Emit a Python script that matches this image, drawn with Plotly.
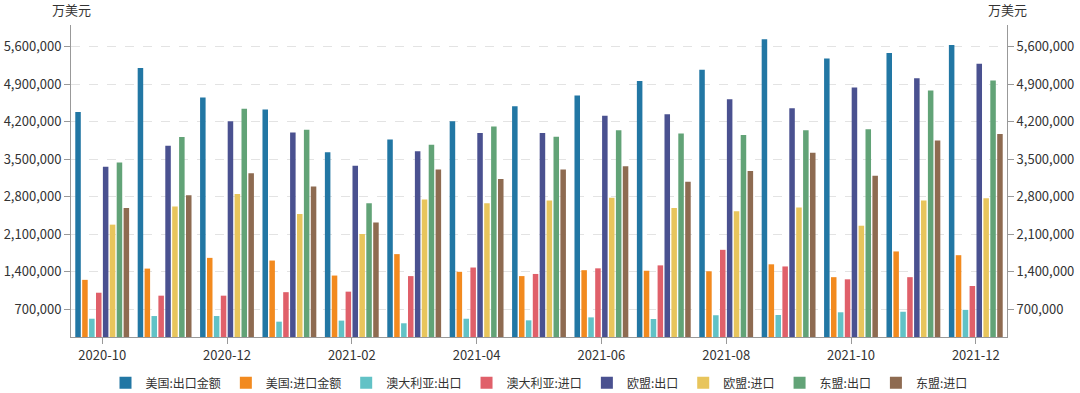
import plotly.graph_objects as go

months = ["2020-10", "2020-11", "2020-12", "2021-01", "2021-02", "2021-03", "2021-04",
          "2021-05", "2021-06", "2021-07", "2021-08", "2021-09", "2021-10", "2021-11", "2021-12"]

us_export = [4380000, 5200000, 4650000, 4430000, 3630000, 3870000, 4210000, 4490000,
             4690000, 4960000, 5170000, 5740000, 5380000, 5480000, 5630000]
us_import = [1250000, 1460000, 1660000, 1610000, 1330000, 1730000, 1400000, 1320000,
             1430000, 1420000, 1410000, 1540000, 1300000, 1780000, 1710000]
au_export = [525000, 575000, 575000, 470000, 490000, 440000, 525000, 495000,
             550000, 520000, 590000, 595000, 645000, 655000, 690000]
au_import = [1010000, 955000, 955000, 1020000, 1030000, 1320000, 1480000, 1360000,
             1465000, 1520000, 1810000, 1500000, 1260000, 1300000, 1135000]
eu_export = [3360000, 3750000, 4210000, 4000000, 3380000, 3650000, 3990000, 3990000,
             4310000, 4340000, 4620000, 4450000, 4840000, 5010000, 5280000]
eu_import = [2280000, 2620000, 2850000, 2480000, 2105000, 2750000, 2680000, 2730000,
             2780000, 2590000, 2530000, 2600000, 2260000, 2730000, 2770000]
asean_export = [3440000, 3915000, 4440000, 4050000, 2680000, 3770000, 4110000, 3920000,
                4040000, 3980000, 3950000, 4040000, 4060000, 4780000, 4970000]
asean_import = [2590000, 2830000, 3240000, 2990000, 2320000, 3310000, 3130000, 3310000,
                3370000, 3080000, 3280000, 3620000, 3190000, 3850000, 3970000]

series_names = ["美国:出口金额", "美国:进口金额", "澳大利亚:出口", "澳大利亚:进口",
                "欧盟:出口", "欧盟:进口", "东盟:出口", "东盟:进口"]
series_values = [us_export, us_import, au_export, au_import,
                 eu_export, eu_import, asean_export, asean_import]
colors = ["#2277A4", "#F28A1F", "#62C2C6", "#E0606A",
          "#4A5190", "#E8C55C", "#62A377", "#8E6B51"]

tick_vals = [700000, 1400000, 2100000, 2800000, 3500000, 4200000, 4900000, 5600000]
y_range = [184000, 6004000]
font_family = "Noto Sans CJK SC, Noto Sans, sans-serif"

fig = go.Figure()
for name, vals, c in zip(series_names, series_values, colors):
    fig.add_trace(go.Bar(x=months, y=vals, name=name, marker=dict(color=c, line=dict(width=0))))
# invisible bar on the right axis so that it is drawn
fig.add_trace(go.Bar(x=months[:1], y=[None], yaxis="y2", showlegend=False, hoverinfo="skip",
                     marker=dict(color="rgba(0,0,0,0)")))

axis_common = dict(
    range=y_range, tickvals=tick_vals, tickformat=",", showline=True, linecolor="#999999",
    linewidth=1, ticks="outside", ticklen=6, tickcolor="#999999", automargin=False,
    tickfont=dict(size=13, color="#333333", family=font_family), zeroline=False,
)

fig.update_layout(
    width=1080, height=393,
    margin=dict(l=71, r=73, t=25, b=56, autoexpand=False),
    paper_bgcolor="white", plot_bgcolor="white",
    barmode="group", bargap=0.115, bargroupgap=0.2,
    font=dict(family=font_family, size=13, color="#333333"),
    xaxis=dict(
        type="category", range=[-0.5, len(months) - 0.5],
        tickvals=months[::2], ticktext=months[::2], automargin=False,
        showline=True, linecolor="#999999", ticks="outside", ticklen=6, tickcolor="#999999",
        showgrid=False, tickfont=dict(size=13, color="#333333"),
    ),
    yaxis=dict(**axis_common, showgrid=True, gridcolor="#e3e3e3", griddash="dash"),
    yaxis2=dict(**axis_common, overlaying="y", side="right", showgrid=False),
    legend=dict(orientation="h", x=0.5, xanchor="center", y=-0.147, yanchor="middle",
                font=dict(size=12, color="#333333"), itemwidth=30, traceorder="normal"),
    showlegend=True,
)

fig.add_annotation(text="万美元", xref="paper", yref="paper", x=0.0, y=1.0, yshift=16,
                   xanchor="center", yanchor="middle", showarrow=False,
                   font=dict(size=13, color="#333333"))
fig.add_annotation(text="万美元", xref="paper", yref="paper", x=1.0, y=1.0, yshift=16,
                   xanchor="center", yanchor="middle", showarrow=False,
                   font=dict(size=13, color="#333333"))

fig.write_html("out.html", config={"displayModeBar": False},
               post_script="document.body.style.margin='0';")
